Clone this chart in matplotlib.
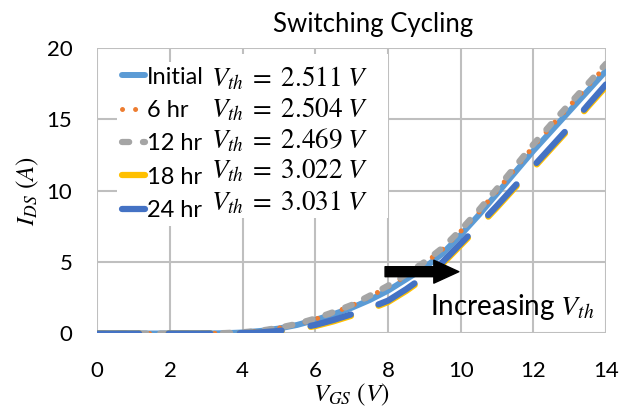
import matplotlib
matplotlib.use("Agg")
import matplotlib.pyplot as plt

plt.rcParams['font.family'] = ['Lato', 'DejaVu Sans']
plt.rcParams['mathtext.fontset'] = 'stix'

# gate voltage sweep (V)
vgs = [0, 1, 2, 3, 3.5, 4, 4.5, 5, 5.5, 6, 6.5, 7, 7.5, 8, 8.5, 9, 9.5,
       10, 10.5, 11, 11.5, 12, 12.5, 13, 13.5, 14]

# drain current (A)
ids_initial = [0, 0, 0, 0, 0.02, 0.07, 0.18, 0.35, 0.6, 0.95, 1.35, 1.8, 2.35,
               3.0, 3.8, 4.6, 5.6, 6.9, 8.3, 9.8, 11.3, 12.8, 14.2, 15.6, 17.0, 18.4]
ids_6hr = [0, 0, 0, 0, 0.03, 0.08, 0.19, 0.38, 0.65, 1.0, 1.45, 1.95, 2.58,
           3.28, 4.05, 4.9, 5.9, 7.15, 8.5, 10.0, 11.55, 13.1, 14.55, 15.95, 17.35, 18.75]
ids_12hr = [0, 0, 0, 0, 0.03, 0.09, 0.2, 0.4, 0.68, 1.05, 1.5, 2.0, 2.65,
            3.35, 4.15, 5.0, 6.0, 7.25, 8.65, 10.15, 11.7, 13.25, 14.7, 16.1, 17.5, 18.9]
ids_18hr = [0, 0, 0, 0, 0, 0.02, 0.06, 0.14, 0.3, 0.52, 0.85, 1.25, 1.7,
            2.2, 2.98, 3.88, 4.88, 6.18, 7.48, 8.83, 10.23, 11.58, 12.98, 14.38, 15.88, 17.3]
ids_24hr = [0, 0, 0, 0, 0.01, 0.03, 0.08, 0.18, 0.35, 0.6, 0.95, 1.35, 1.8,
            2.3, 3.1, 4.0, 5.0, 6.3, 7.6, 8.95, 10.35, 11.7, 13.1, 14.5, 16.0, 17.45]

labels = ['Initial', '6 hr', '12 hr', '18 hr', '24 hr']
vth = ['2.511', '2.504', '2.469', '3.022', '3.031']

fig = plt.figure(figsize=(6.29, 4.07), dpi=100)
ax = fig.add_axes([0.1547, 0.1806, 0.8087, 0.7014])

ax.plot(vgs, ids_initial, color='#5B9BD5', lw=4.3, solid_capstyle='round', label=labels[0])
ax.plot(vgs, ids_6hr, color='#ED7D31', lw=3.6, dashes=(0.01, 2.6),
        dash_capstyle='round', label=labels[1])
ax.plot(vgs, ids_12hr, color='#A5A5A5', lw=4.5, dashes=(1.15, 2.2),
        dash_capstyle='round', label=labels[2])
ax.plot(vgs, ids_18hr, color='#FFC000', lw=4.5, dashes=(6.7, 4.7),
        dash_capstyle='round', label=labels[3])
ax.plot(vgs, ids_24hr, color='#4472C4', lw=4.5, dashes=(6.7, 4.7),
        dash_capstyle='round', label=labels[4])

ax.set_xlim(0, 14)
ax.set_ylim(0, 20)
ax.set_xticks(range(0, 15, 2))
ax.set_yticks(range(0, 21, 5))
ax.grid(True, color='#BFBFBF', lw=1.5)
ax.set_axisbelow(True)
for s in ax.spines.values():
    s.set_visible(False)
ax.tick_params(length=0, labelsize=16, colors='black')
ax.tick_params(axis='x', pad=20)
ax.tick_params(axis='y', pad=18)

ax.set_xlabel('$V_{GS}\\ (V)$', fontsize=18, labelpad=0)
ax.set_ylabel('$I_{DS}\\ (A)$', fontsize=18, labelpad=4)
fig.text(0.593, 0.94, 'Switching Cycling', fontsize=18.5, ha='center', va='center')

# arrow showing the threshold shift
ax.annotate('', xy=(9.95, 4.33), xytext=(7.92, 4.33),
            arrowprops=dict(arrowstyle='simple,head_length=1.2,head_width=1.1,tail_width=0.48',
                            mutation_scale=15, color='black', shrinkA=0, shrinkB=0))
ax.text(9.15, 1.85, 'Increasing $V_{th}$', fontsize=20, ha='left', va='center')

leg = ax.legend(loc='upper left', bbox_to_anchor=(117 / 629, 1 - 62 / 407),
                bbox_transform=fig.transFigure, fontsize=17, frameon=True,
                handlelength=1.0, handletextpad=0.08, labelspacing=0.52,
                borderpad=0.2, borderaxespad=0)
leg.get_frame().set_edgecolor('none')
leg.get_frame().set_alpha(1)
leg.get_frame().set_boxstyle('square', pad=0)

# threshold voltage box
box = plt.Rectangle((208 / 629, 1 - 218 / 407), 180 / 629, 164 / 407,
                    transform=fig.transFigure, facecolor='white', edgecolor='none', zorder=2)
fig.patches.append(box)
for i, v in enumerate(vth):
    fig.text(211 / 629, 1 - (78 + 31 * i) / 407, '$V_{th}\\;=\\;' + v + '\\;V$',
             fontsize=19.5, ha='left', va='center', zorder=3)

fig.savefig('out.png', dpi=100)
